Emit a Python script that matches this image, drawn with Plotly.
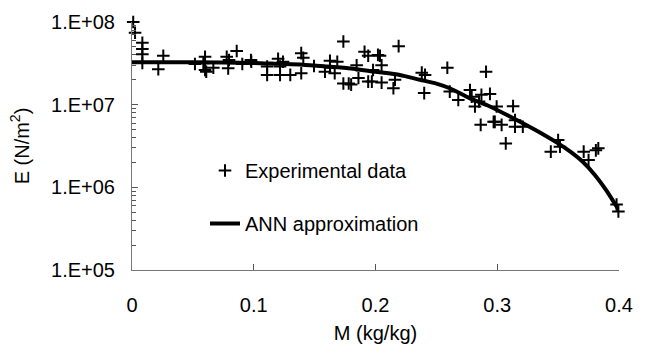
import plotly.graph_objects as go

# Experimental data (M in kg/kg, E in N/m^2)
exp_m = [0.001, 0.0025, 0.0085, 0.0085, 0.0085, 0.0085, 0.0257, 0.0216, 0.0517, 0.060,
         0.0586, 0.060, 0.061, 0.0668, 0.0778, 0.0797, 0.079, 0.086, 0.0906, 0.0977,
         0.098, 0.111, 0.111, 0.120, 0.1216, 0.1216, 0.124, 0.130, 0.139, 0.1407,
         0.139, 0.1495, 0.1585, 0.1626, 0.1626, 0.1686, 0.1665, 0.1736, 0.1736, 0.178,
         0.180, 0.1845, 0.186, 0.191, 0.194, 0.194, 0.202, 0.198, 0.219, 0.2037,
         0.205, 0.197, 0.205, 0.2147, 0.216, 0.238, 0.2407, 0.240, 0.259, 0.261,
         0.268, 0.2776, 0.279, 0.2817, 0.287, 0.2908, 0.285, 0.2864, 0.298, 0.294,
         0.2995, 0.313, 0.297, 0.3036, 0.307, 0.3146, 0.3146, 0.321, 0.350, 0.344,
         0.3515, 0.371, 0.375, 0.381, 0.383, 0.398, 0.3995]
exp_e = [1.0e8, 7.4e7, 5.6e7, 4.7e7, 4.07e7, 3.2e7, 3.9e7, 2.68e7, 3.1e7, 3.8e7,
         3.16e7, 2.63e7, 2.5e7, 2.8e7, 3.8e7, 3.47e7, 2.75e7, 4.45e7, 3.1e7, 3.47e7,
         3.3e7, 2.89e7, 2.29e7, 3.6e7, 2.89e7, 2.29e7, 3.3e7, 2.29e7, 4.2e7, 3.7e7,
         2.4e7, 2.94e7, 2.5e7, 3.4e7, 2.8e7, 3.3e7, 2.4e7, 5.8e7, 1.8e7, 1.8e7,
         1.75e7, 3.0e7, 2.1e7, 4.37e7, 3.9e7, 1.9e7, 4.0e7, 2.63e7, 5.1e7, 3.9e7,
         3.0e7, 1.9e7, 1.85e7, 1.58e7, 2.0e7, 2.44e7, 2.29e7, 1.38e7, 2.8e7, 1.44e7,
         1.14e7, 1.5e7, 1.25e7, 9.5e6, 1.32e7, 2.5e7, 1.09e7, 5.7e6, 6.2e6, 1.35e7,
         9.5e6, 9.6e6, 6.2e6, 5.7e6, 3.4e6, 6.5e6, 5.4e6, 5.4e6, 3.74e6, 2.7e6,
         3.1e6, 2.7e6, 2.14e6, 2.8e6, 2.96e6, 6.2e5, 5.1e5]

# ANN approximation curve
ann_m = [0.0, 0.05, 0.10, 0.12, 0.14, 0.16, 0.18, 0.20, 0.22, 0.2365, 0.25, 0.261,
         0.2776, 0.294, 0.3187, 0.335, 0.35, 0.36, 0.37, 0.38, 0.39, 0.40, 0.403]
ann_e = [3.25e7, 3.25e7, 3.2e7, 3.12e7, 3.05e7, 2.9e7, 2.74e7, 2.5e7, 2.29e7, 2.0e7, 1.8e7, 1.58e7,
         1.19e7, 9.5e6, 6.2e6, 4.6e6, 3.4e6, 2.7e6, 2.05e6, 1.42e6, 9.0e5, 5.3e5, 4.7e5]

y_tickvals = [1e5, 1e6, 1e7, 1e8]
y_ticktext = ["1.E+05", "1.E+06", "1.E+07", "1.E+08"]
x_tickvals = [0, 0.1, 0.2, 0.3, 0.4]
x_ticktext = ["0", "0.1", "0.2", "0.3", "0.4"]
minor_vals = [m * 10 ** k for k in range(5, 8) for m in range(2, 10)]

FONT = "Liberation Sans, Arial, sans-serif"

fig = go.Figure()
fig.add_trace(go.Scatter(
    x=exp_m, y=exp_e, mode="markers", name="Experimental data",
    marker=dict(symbol="cross-thin", size=9, color="black",
                line=dict(color="black", width=2)),
    cliponaxis=False, legendgroup="a",
))
fig.add_trace(go.Scatter(
    x=ann_m, y=ann_e, mode="lines", name="ANN approximation",
    line=dict(color="black", width=4, shape="spline", smoothing=0.6), legendgroup="b",
))

fig.update_layout(
    width=647, height=355,
    margin=dict(l=132, r=28, t=22, b=85),
    paper_bgcolor="white", plot_bgcolor="white",
    font=dict(family=FONT, size=20, color="black"),
    showlegend=True,
    legend=dict(x=(205 - 132) / 487, y=(270 - 151) / 248, xanchor="left", yanchor="top",
                bgcolor="rgba(0,0,0,0)", font=dict(size=20), tracegroupgap=24,
                traceorder="grouped"),
    xaxis=dict(range=[0, 0.4], tickvals=x_tickvals, ticktext=x_ticktext,
               showgrid=False, zeroline=False, showline=True, linecolor="#777", linewidth=1,
               ticks="inside", ticklen=6, tickcolor="#555", ticklabelstandoff=17,
               tickfont=dict(size=20),
               title=dict(text="M (kg/kg)", standoff=10, font=dict(size=20))),
    yaxis=dict(type="log", range=[5, 8], tickvals=y_tickvals, ticktext=y_ticktext,
               showgrid=False, zeroline=False, showline=True, linecolor="#777", linewidth=1,
               ticks="inside", ticklen=6, tickcolor="#555", ticklabelstandoff=12,
               tickfont=dict(size=20),
               minor=dict(tickvals=minor_vals, ticks="inside", ticklen=4, tickcolor="#555",
                          showgrid=False),
               title=dict(text="E (N/m<sup>2</sup>)", standoff=16, font=dict(size=20))),
)

fig.write_html("out.html")
